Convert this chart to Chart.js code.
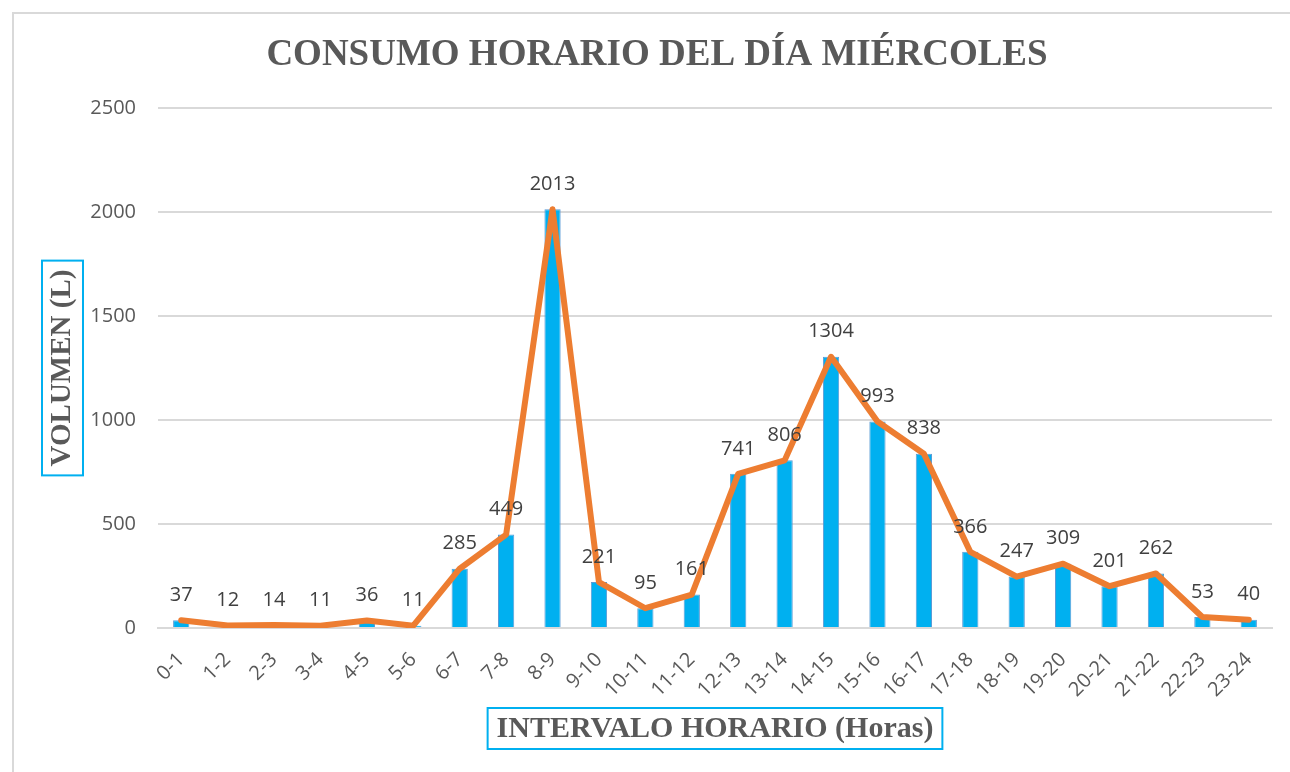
<!DOCTYPE html>
<html>
<head>
<meta charset="utf-8">
<script src="https://cdn.jsdelivr.net/npm/chart.js@4.4.0/dist/chart.umd.min.js"></script>
<style>
  html, body { margin: 0; padding: 0; background: #fff; }
  #wrap { width: 1290px; height: 772px; }
</style>
</head>
<body>
<div id="wrap"><canvas id="c" width="1290" height="772"></canvas></div>
<script>
var horas = ['0-1', '1-2', '2-3', '3-4', '4-5', '5-6', '6-7', '7-8', '8-9', '9-10', '10-11', '11-12',
             '12-13', '13-14', '14-15', '15-16', '16-17', '17-18', '18-19', '19-20', '20-21', '21-22', '22-23', '23-24'];
var volumen = [37, 12, 14, 11, 36, 11, 285, 449, 2013, 221, 95, 161,
               741, 806, 1304, 993, 838, 366, 247, 309, 201, 262, 53, 40];
var yTicks = [0, 500, 1000, 1500, 2000, 2500];

var titulo = 'CONSUMO HORARIO DEL DÍA MIÉRCOLES';
var tituloY = 'VOLUMEN (L)';
var tituloX = 'INTERVALO HORARIO (Horas)';

var sansFont = "'Open Sans', Lato, sans-serif";
var serifFont = "'Liberation Serif', 'DejaVu Serif', serif";

// box around an axis title, like the Excel text box
function boxedText(ctx, text, cx, cy, rotate, size) {
    ctx.save();
    ctx.translate(cx, cy);
    if (rotate) ctx.rotate(-Math.PI / 2);
    ctx.font = 'bold ' + size + 'px ' + serifFont;
    var w = ctx.measureText(text).width;
    ctx.strokeStyle = '#00B0F0';
    ctx.lineWidth = 2;
    ctx.strokeRect(-w / 2 - 9, -20, w + 18, 41);
    ctx.fillStyle = '#595959';
    ctx.textAlign = 'center';
    ctx.textBaseline = 'middle';
    ctx.fillText(text, 0, 1);
    ctx.restore();
}

var decor = {
    id: 'decor',
    beforeDraw: function (chart) {
        var ctx = chart.ctx;
        ctx.save();
        ctx.fillStyle = '#fff';
        ctx.fillRect(0, 0, chart.width, chart.height);
        ctx.strokeStyle = '#D9D9D9';
        ctx.lineWidth = 2;
        ctx.beginPath();
        ctx.moveTo(13, chart.height);
        ctx.lineTo(13, 13);
        ctx.lineTo(chart.width, 13);
        ctx.stroke();
        ctx.restore();
    },
    afterDatasetsDraw: function (chart) {
        var ctx = chart.ctx;
        var bars = chart.getDatasetMeta(1).data;
        ctx.save();
        ctx.font = '20px ' + sansFont;
        ctx.fillStyle = '#404040';
        ctx.textAlign = 'center';
        ctx.textBaseline = 'middle';
        bars.forEach(function (el, i) {
            ctx.fillText(String(volumen[i]), el.x, el.y - 25);
        });
        ctx.restore();
    },
    afterDraw: function (chart) {
        var ctx = chart.ctx;
        var a = chart.chartArea;
        ctx.save();
        ctx.font = 'bold 37px ' + serifFont;
        ctx.fillStyle = '#595959';
        ctx.textAlign = 'center';
        ctx.textBaseline = 'middle';
        ctx.fillText(titulo, 657, 55);
        ctx.restore();
        boxedText(ctx, tituloY, 62, (a.top + a.bottom) / 2, true, 29);
        boxedText(ctx, tituloX, (a.left + a.right) / 2, 728, false, 30);
    }
};

new Chart(document.getElementById('c').getContext('2d'), {
    data: {
        labels: horas,
        datasets: [{
                type: 'line',
                data: volumen,
                borderColor: '#ED7D31',
                borderWidth: 6,
                borderJoinStyle: 'round',
                borderCapStyle: 'round',
                pointRadius: 0,
                tension: 0,
                order: 0
            },
            {
                type: 'bar',
                data: volumen,
                backgroundColor: '#00B0F0',
                borderColor: '#5B9BD5',
                borderWidth: 1,
                barPercentage: 0.35,
                categoryPercentage: 1,
                order: 1
            }]
    },
    options: {
        responsive: false,
        animation: false,
        layout: {padding: {left: 0, top: 108, right: 18, bottom: 0}},
        plugins: {
            legend: {display: false},
            title: {display: false},
            tooltip: {enabled: false}
        },
        scales: {
            x: {
                afterFit: function (s) { s.height = 144; },
                grid: {display: false, drawTicks: false},
                border: {color: '#D9D9D9', width: 2},
                ticks: {
                    minRotation: 45, maxRotation: 45, padding: 20,
                    color: '#595959',
                    font: {family: sansFont, size: 20}
                }
            },
            y: {
                min: 0, max: 2500,
                afterFit: function (s) { s.width = 158; },
                afterBuildTicks: function (s) {
                    s.ticks = yTicks.map(function (v) { return {value: v}; });
                },
                grid: {color: '#D9D9D9', lineWidth: 2, drawTicks: false},
                border: {display: false},
                ticks: {
                    padding: 22,
                    color: '#595959',
                    font: {family: sansFont, size: 20},
                    callback: function (v) { return String(v); }
                }
            }
        }
    },
    plugins: [decor]
});
</script>
</body>
</html>
